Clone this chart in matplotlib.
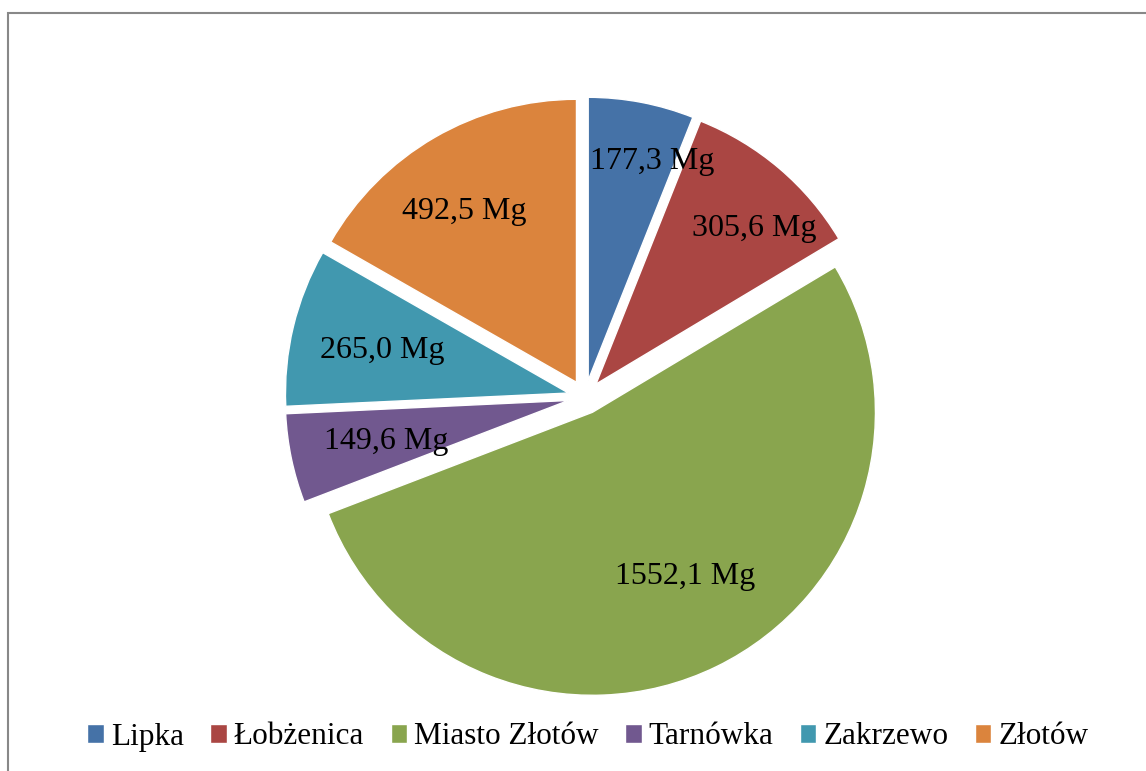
import numpy as np
import matplotlib
matplotlib.use("Agg")
import matplotlib.pyplot as plt
from matplotlib.patches import Rectangle

plt.rcParams["font.family"] = ["Liberation Serif", "DejaVu Serif"]

# dane
gminy = ["Lipka", "Łobżenica", "Miasto Złotów", "Tarnówka", "Zakrzewo", "Złotów"]
masa_mg = [177.3, 305.6, 1552.1, 149.6, 265.0, 492.5]
kolory = ["#4572A7", "#AA4643", "#89A54E", "#71588F", "#4198AF", "#DB843D"]

W, H = 1146, 771
fig = plt.figure(figsize=(W / 100, H / 100), dpi=100)
ax = fig.add_axes([0, 0, 1, 1])
ax.axis("off")

R = 283
# explode w matplotlib jest w jednostkach danych (tu: piksele)
wedges, _ = ax.pie(masa_mg, colors=kolory, startangle=90, counterclock=False,
                   explode=[17] * len(masa_mg), radius=R, center=(585, H - 397),
                   wedgeprops=dict(edgecolor="white", linewidth=1))
ax.set_xlim(0, W); ax.set_ylim(0, H)
ax.set_aspect("equal")

# etykiety: odległość od środka wycinka (ułamek R) i przesunięcie kąta (st., zgodnie z zegarem)
odl = [0.816, 0.79, 0.657, 0.658, 0.679, 0.731]
dkat = [5.2, 4.6, -3.9, 0.0, 0.3, -2.6]
for w, v, d, k in zip(wedges, masa_mg, odl, dkat):
    th = np.deg2rad((w.theta1 + w.theta2) / 2 - k)
    cx, cy = w.center
    ax.text(cx + d * R * np.cos(th), cy + d * R * np.sin(th) - 10.5,
            f"{v:.1f}".replace(".", ",") + " Mg",
            ha="center", va="baseline", fontsize=23, color="black")

fig.legend(wedges, gminy, loc="center", bbox_to_anchor=(588 / W, 1 - 737 / H),
           ncol=6, frameon=False, fontsize=22.5, handlelength=0.52, handleheight=0.52,
           handletextpad=0.23, columnspacing=0.85)

# ramka
fig.add_artist(Rectangle((8 / W, -0.1), 1.2, 1.1 - 13 / H, transform=fig.transFigure,
                         fill=False, edgecolor="#888888", linewidth=1.5))

fig.savefig("out.png", dpi=100, facecolor="white")
